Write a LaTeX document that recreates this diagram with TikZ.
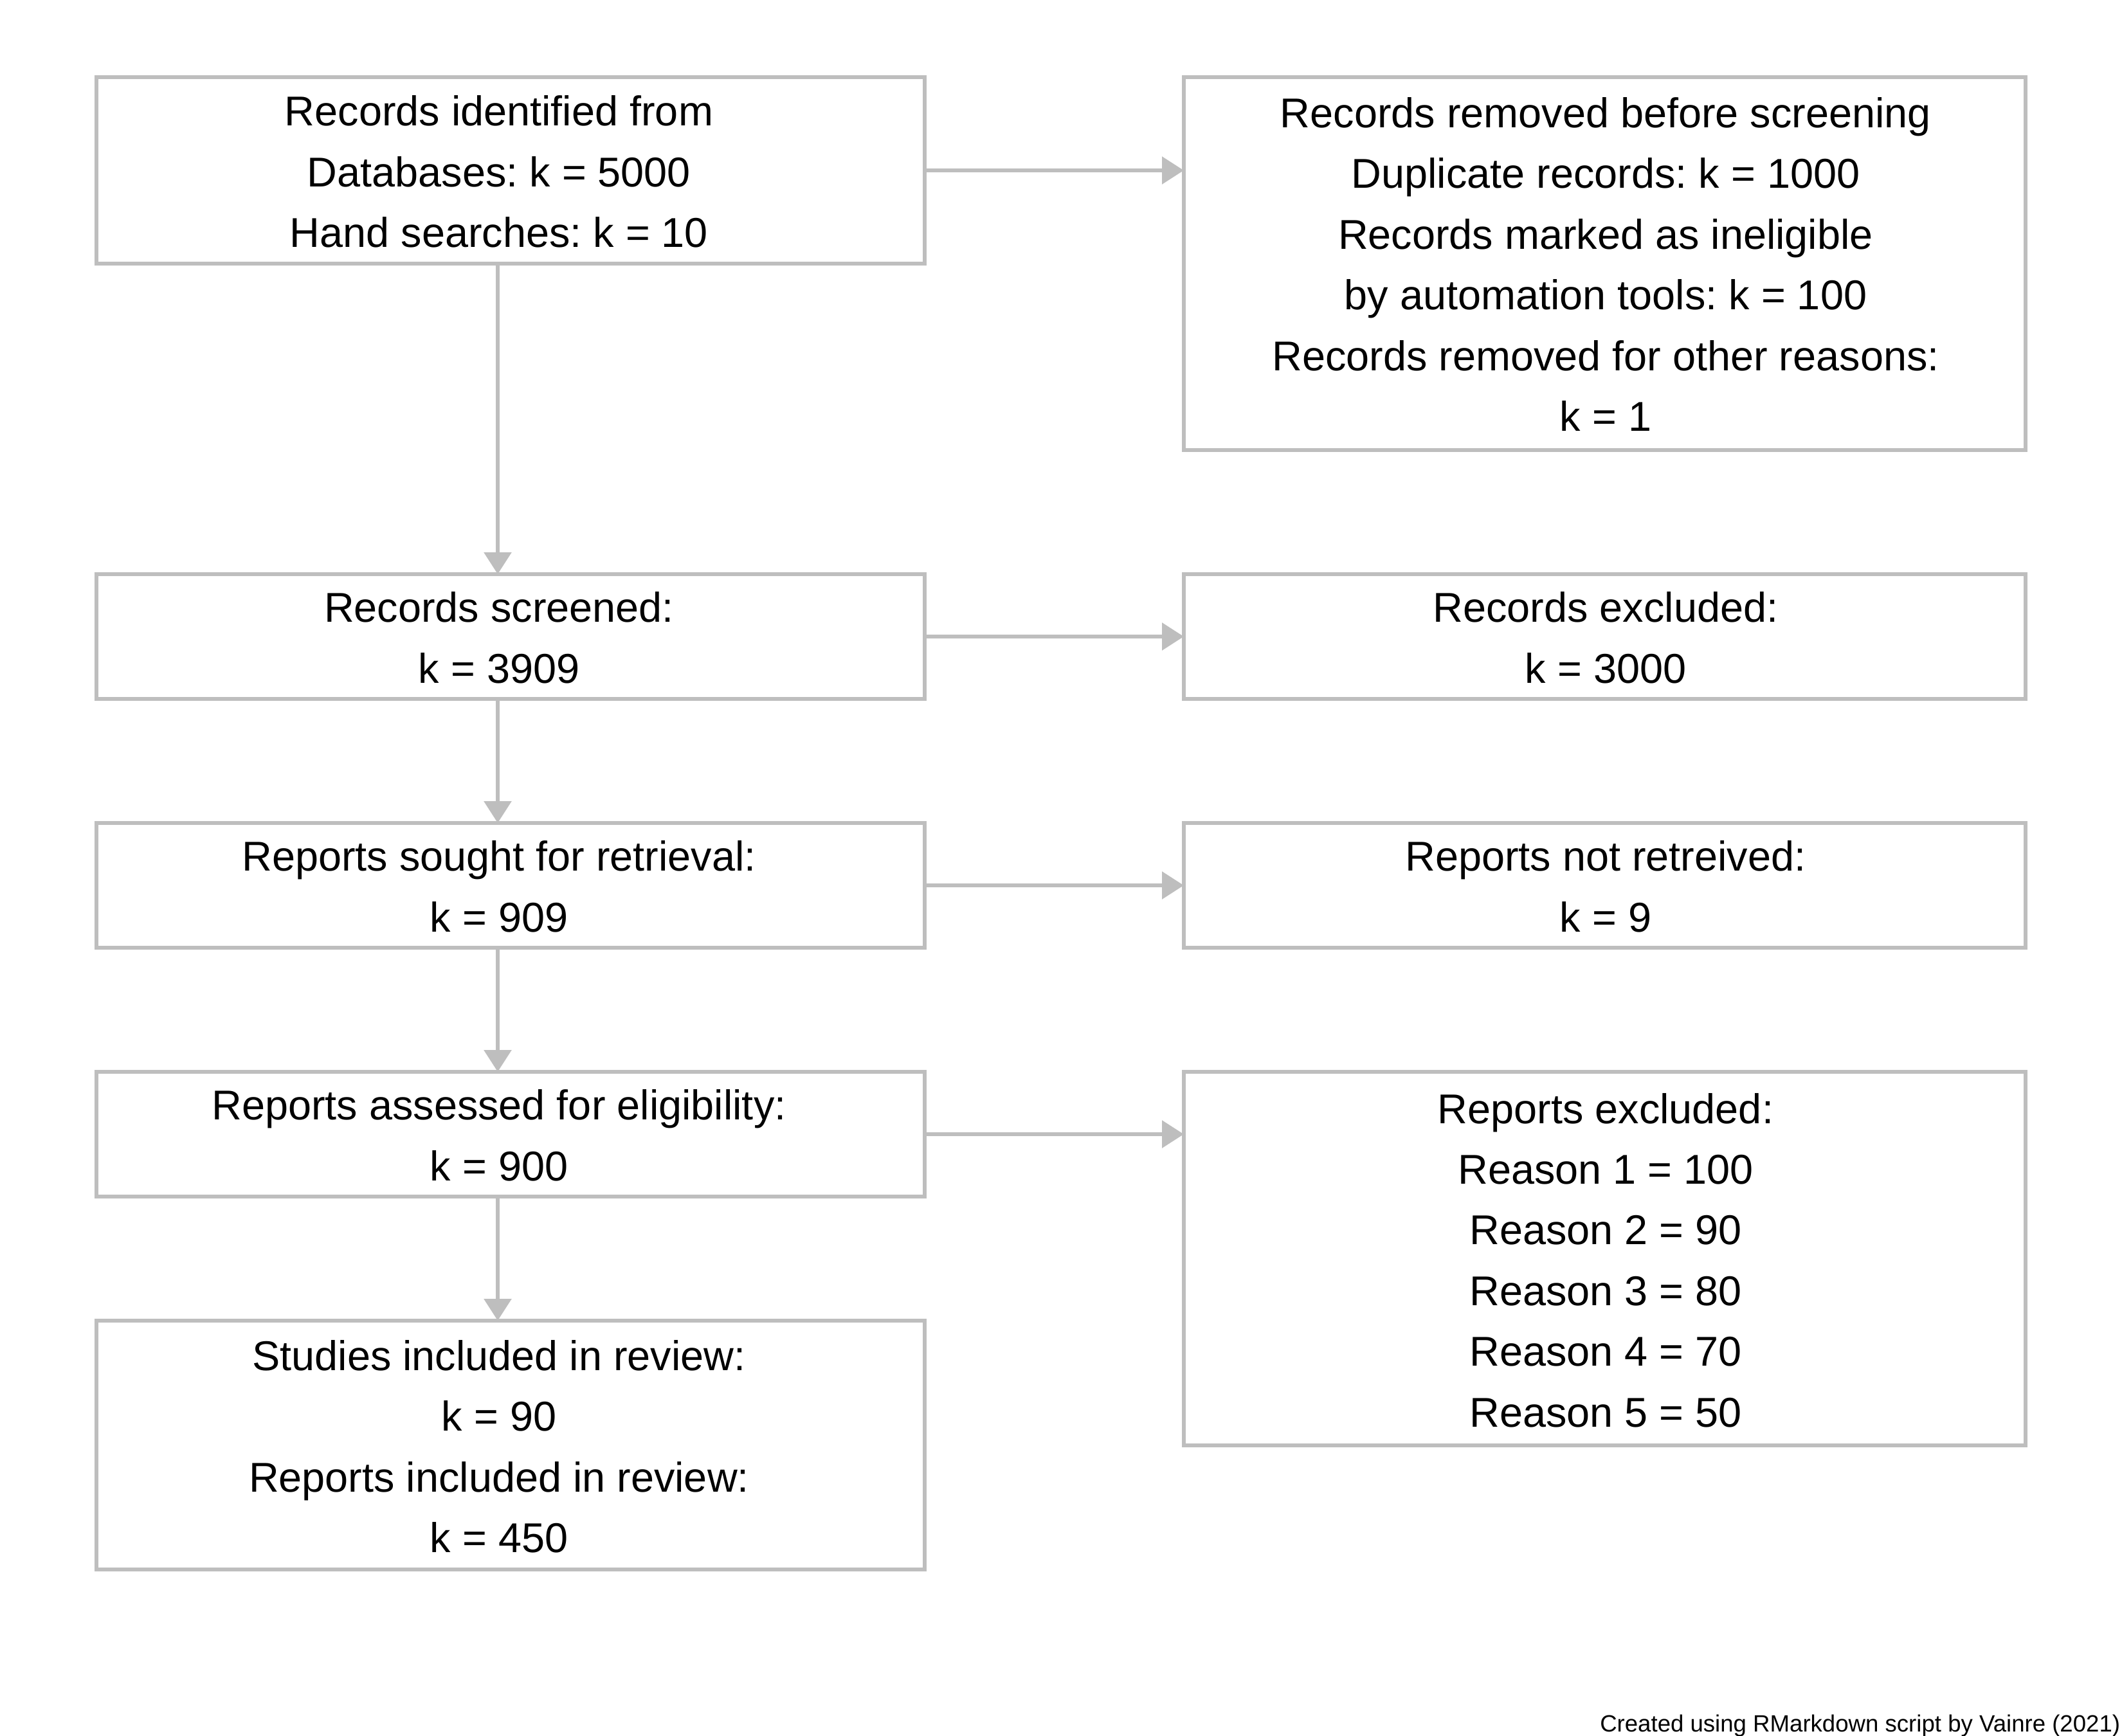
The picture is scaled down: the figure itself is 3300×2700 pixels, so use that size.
\documentclass[tikz,border=0pt]{standalone}
\usepackage{fontspec}
\setmainfont{Liberation Sans}
\usetikzlibrary{arrows.meta}
\definecolor{boxgray}{RGB}{190,190,190}
\frenchspacing
\begin{document}
\begin{tikzpicture}[x=0.25pt,y=-0.25pt,
  boxL/.style={draw=boxgray, line width=1.5pt, inner sep=0pt, outer sep=0pt, minimum width=322pt},
  boxR/.style={draw=boxgray, line width=1.5pt, inner sep=0pt, outer sep=0pt, minimum width=327.25pt},
  lbl/.style={align=center, inner sep=0pt, font=\fontsize{16.2}{23.6}\selectfont},
  conn/.style={draw=boxgray, line width=1.5pt, -{Triangle[length=8.5pt,width=10.5pt]}}
]
\useasboundingbox (0,0) rectangle (3300,2700);
% boxes
\node[boxL, minimum height=72.5pt] (b1) at (794,265) {};
\node[boxR, minimum height=145pt] (b2) at (2495.5,410) {};
\node[boxL, minimum height=48.5pt] (b3) at (794,990) {};
\node[boxR, minimum height=48.5pt] (b4) at (2495.5,990) {};
\node[boxL, minimum height=48.5pt] (b5) at (794,1377) {};
\node[boxR, minimum height=48.5pt] (b6) at (2495.5,1377) {};
\node[boxL, minimum height=48.5pt] (b7) at (794,1764) {};
\node[boxR, minimum height=145.25pt] (b8) at (2495.5,1957.5) {};
\node[boxL, minimum height=96.75pt] (b9) at (794,2247.5) {};
% texts
\node[lbl] (t1) at (776,267) {Records identified from\\Databases: k = 5000\\Hand searches: k = 10};
\node[lbl] (t2) at (2497,411) {Records removed before screening\\Duplicate records: k = 1000\\Records marked as ineligible\\by automation tools: k = 100\\Records removed for other reasons:\\k = 1};
\node[lbl] (t3) at (776,992) {Records screened:\\k = 3909};
\node[lbl] (t4) at (2497,992) {Records excluded:\\k = 3000};
\node[lbl] (t5) at (776,1379) {Reports sought for retrieval:\\k = 909};
\node[lbl] (t6) at (2497,1379) {Reports not retreived:\\k = 9};
\node[lbl] (t7) at (776,1766) {Reports assessed for eligibility:\\k = 900};
\node[lbl] (t8) at (2497,1960) {Reports excluded:\\Reason 1 = 100\\Reason 2 = 90\\Reason 3 = 80\\Reason 4 = 70\\Reason 5 = 50};
\node[lbl] (t9) at (776,2250) {Studies included in review:\\k = 90\\Reports included in review:\\k = 450};
% connectors
\draw[conn] (b1.east) -- (b1.east -| b2.west);
\draw[conn] (b3.east) -- (b4.west);
\draw[conn] (b5.east) -- (b6.west);
\draw[conn] (b7.east) -- (b7.east -| b8.west);
\draw[conn] ([xshift=-5pt]b1.south) -- ([xshift=-5pt]b3.north);
\draw[conn] ([xshift=-5pt]b3.south) -- ([xshift=-5pt]b5.north);
\draw[conn] ([xshift=-5pt]b5.south) -- ([xshift=-5pt]b7.north);
\draw[conn] ([xshift=-5pt]b7.south) -- ([xshift=-5pt]b9.north);
% credit
\node[anchor=east, inner sep=0pt, font=\fontsize{9.15}{11}\selectfont] (credit) at (3298,2684) {Created using RMarkdown script by Vainre (2021)};
\end{tikzpicture}
\end{document}
